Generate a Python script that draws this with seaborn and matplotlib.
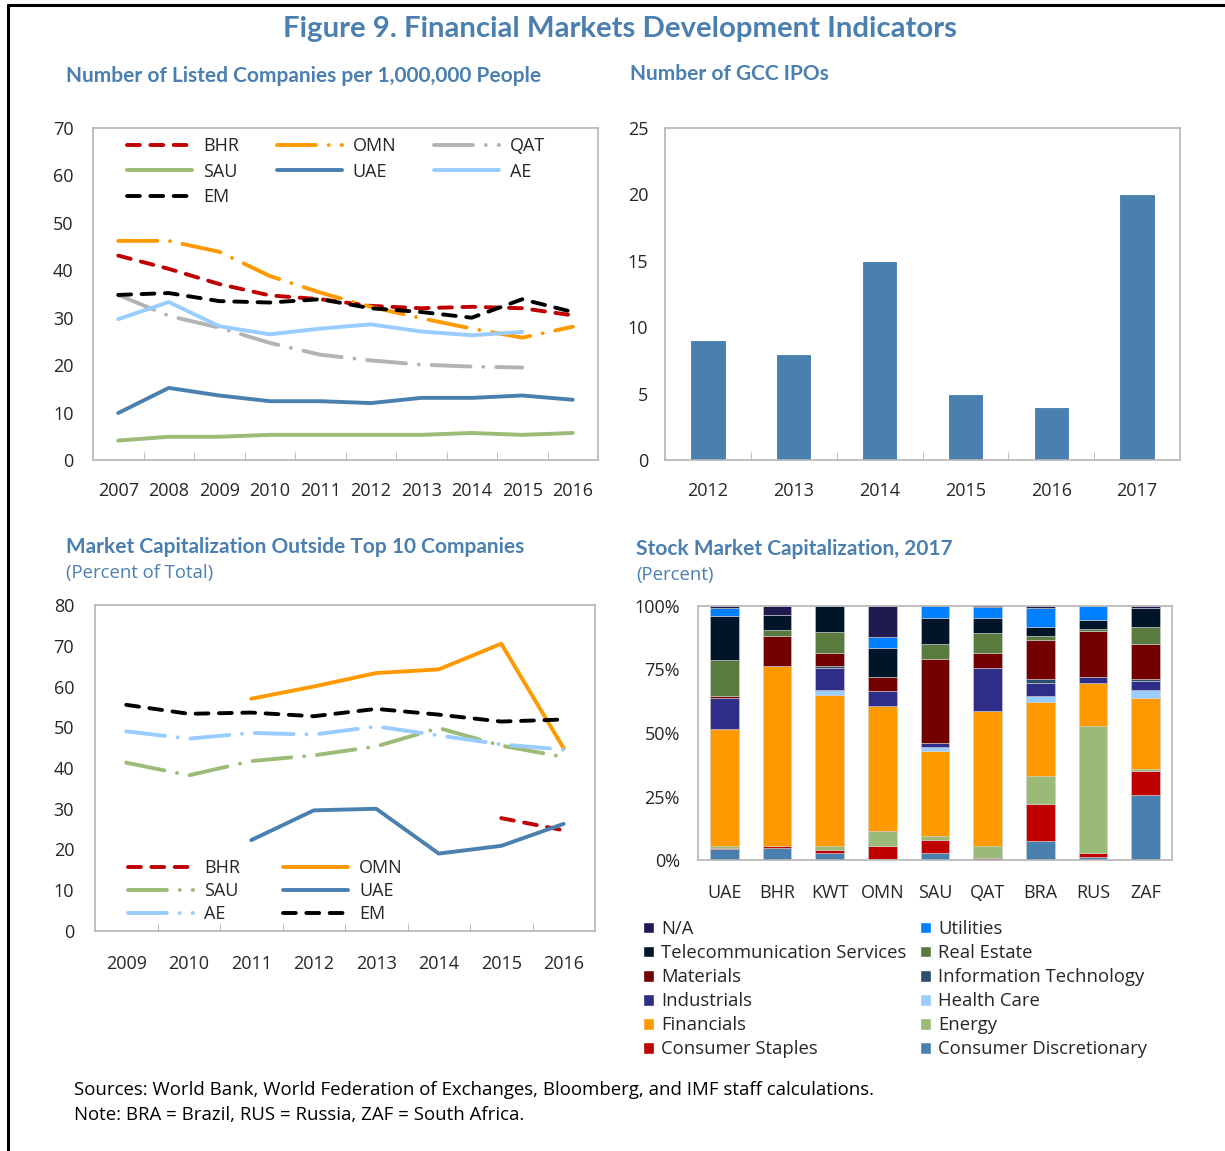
import numpy as np
import pandas as pd
import seaborn as sns
import matplotlib.pyplot as plt
from matplotlib.lines import Line2D
from matplotlib.patches import Patch

# ---- data ----
years_listed = [2007, 2008, 2009, 2010, 2011, 2012, 2013, 2014, 2015, 2016]
bhr_listed = [43.1, 40.3, 37.1, 34.7, 33.9, 32.5, 32.0, 32.3, 32.0, 30.5]
omn_listed = [46.2, 46.2, 43.9, 38.8, 35.3, 32.3, 29.9, 27.7, 25.8, 28.1]
qat_listed = [34.8, 30.4, 27.9, 24.7, 22.2, 21.0, 20.1, 19.7, 19.5, np.nan]
sau_listed = [4.1, 4.9, 4.9, 5.3, 5.3, 5.3, 5.3, 5.7, 5.3, 5.7]
uae_listed = [9.9, 15.2, 13.6, 12.4, 12.4, 12.0, 13.1, 13.1, 13.6, 12.7]
ae_listed = [29.7, 33.3, 28.2, 26.5, 27.7, 28.6, 27.1, 26.3, 27.0, np.nan]
em_listed = [34.8, 35.2, 33.5, 33.2, 33.9, 32.0, 31.2, 30.0, 33.9, 31.2]

ipo_years = ['2012', '2013', '2014', '2015', '2016', '2017']
ipo_counts = [9, 8, 15, 5, 4, 20]

years_cap = [2009, 2010, 2011, 2012, 2013, 2014, 2015, 2016]
bhr_cap = [np.nan, np.nan, np.nan, np.nan, np.nan, np.nan, 27.7, 24.7]
omn_cap = [np.nan, np.nan, 57.0, 60.0, 63.3, 64.2, 70.5, 44.8]
sau_cap = [41.3, 38.2, 41.7, 43.1, 45.3, 49.8, 45.5, 42.7]
uae_cap = [np.nan, np.nan, 22.3, 29.6, 30.0, 19.0, 20.9, 26.3]
ae_cap = [49.0, 47.2, 48.6, 48.2, 50.2, 48.0, 45.8, 44.5]
em_cap = [55.5, 53.3, 53.6, 52.7, 54.5, 53.1, 51.4, 51.9]

countries = ['UAE', 'BHR', 'KWT', 'OMN', 'SAU', 'QAT', 'BRA', 'RUS', 'ZAF']
cons_disc = [4.2, 4.9, 2.8, 0.5, 2.8, 0.0, 7.3, 1.3, 25.5]
cons_staples = [0.7, 0.8, 1.3, 5.1, 5.1, 0.7, 14.6, 1.4, 9.6]
energy = [0.8, 0.0, 1.5, 5.9, 1.6, 5.0, 11.1, 50.0, 0.8]
financials = [45.8, 70.6, 59.5, 49.2, 33.6, 53.0, 29.4, 16.9, 27.7]
health_care = [0.0, 0.0, 1.7, 0.0, 1.4, 0.0, 2.0, 0.0, 3.2]
industrials = [12.3, 0.0, 8.8, 5.9, 1.6, 16.9, 5.3, 2.4, 3.7]
info_tech = [0.0, 0.0, 0.7, 0.0, 0.0, 0.0, 1.6, 0.0, 0.8]
materials = [0.7, 11.7, 5.1, 5.3, 33.0, 5.9, 15.3, 18.2, 13.9]
real_estate = [14.1, 2.4, 8.2, 0.0, 6.1, 8.0, 1.6, 0.8, 6.6]
telecom = [17.5, 5.9, 10.4, 11.5, 10.1, 5.8, 3.6, 3.6, 7.3]
utilities = [3.0, 0.0, 0.0, 4.5, 4.6, 4.3, 7.4, 5.4, 0.0]
not_avail = [0.9, 3.7, 0.0, 12.0, 0.4, 0.6, 0.9, 0.0, 1.0]

# ---- style ----
sns.set_style('white')
plt.rcParams['font.family'] = ['Open Sans', 'DejaVu Sans']

W, H = 1225, 1151
BLUE_T = '#4a7fb0'
SPINE = '#b5b5b5'
RED, ORANGE, GREY, GREEN = '#c00000', '#ff9900', '#b3b3b3', '#9bbb77'
UAE_C, AE_C, EM_C = '#4a80b0', '#99ccff', '#000000'
SHORT = (0, (3.3, 2.7))
DASHDOT = (0, (10, 3.3, 0.01, 3.3))
LW = 2.8

fig = plt.figure(figsize=(W / 100, H / 100), dpi=100)


def px_rect(l, t, r, b):
    return [l / W, 1 - b / H, (r - l) / W, (b - t) / H]


def frame(ax, ypad, xpad):
    for s in ax.spines.values():
        s.set_color(SPINE)
        s.set_linewidth(1.2)
        s.set_visible(True)
    ax.tick_params(axis='y', direction='in', length=5, color=SPINE, pad=ypad, labelsize=13)
    ax.tick_params(axis='x', which='major', length=0, pad=xpad, labelsize=13)
    ax.tick_params(axis='x', which='minor', direction='in', length=6, color=SPINE, bottom=True)
    ax.set_xlabel('')
    ax.set_ylabel('')


def draw_lines(ax, x, series):
    handles = {}
    for name, vals, color, ls in series:
        sns.lineplot(x=x, y=vals, ax=ax, color=color, linewidth=LW, linestyle=ls,
                     dash_capstyle='round', solid_capstyle='round', legend=False)
        handles[name] = Line2D([], [], color=color, linewidth=LW, linestyle=ls,
                               dash_capstyle='round', solid_capstyle='round')
    return handles


# ---- panel 1: listed companies ----
ax1 = fig.add_axes(px_rect(93, 128, 598, 460))
h1 = draw_lines(ax1, years_listed, [
    ('BHR', bhr_listed, RED, SHORT),
    ('OMN', omn_listed, ORANGE, DASHDOT),
    ('QAT', qat_listed, GREY, DASHDOT),
    ('SAU', sau_listed, GREEN, '-'),
    ('UAE', uae_listed, UAE_C, '-'),
    ('AE', ae_listed, AE_C, '-'),
    ('EM', em_listed, EM_C, SHORT),
])
ax1.set_xlim(2006.5, 2016.5)
ax1.set_ylim(0, 70)
ax1.set_yticks(range(0, 71, 10))
ax1.set_xticks(years_listed)
ax1.set_xticks(np.arange(2007.5, 2016, 1), minor=True)
frame(ax1, 14, 16)
order1 = ['BHR', 'SAU', 'EM', 'OMN', 'UAE', 'QAT', 'AE']
ax1.legend([h1[k] for k in order1], order1, ncol=3, frameon=False, fontsize=13,
           loc='upper left', bbox_to_anchor=(127 / W, 1 - 137 / H), bbox_transform=fig.transFigure,
           borderpad=0, borderaxespad=0, handlelength=3.6, handletextpad=0.6,
           columnspacing=2.1, labelspacing=0.42)

# ---- panel 2: IPOs ----
ax2 = fig.add_axes(px_rect(665, 128, 1180, 460))
sns.barplot(x=ipo_years, y=ipo_counts, ax=ax2, color='#4a80b0', width=0.41,
            saturation=1, edgecolor='white', linewidth=0.8)
ax2.set_xlim(-0.5, 5.5)
ax2.set_ylim(0, 25)
ax2.set_yticks(range(0, 26, 5))
ax2.set_xticks(np.arange(0.5, 5, 1), minor=True)
frame(ax2, 12, 16)
ax2.tick_params(axis='y', length=0)

# ---- panel 3: market cap outside top 10 ----
ax3 = fig.add_axes(px_rect(95, 605, 595, 931))
h3 = draw_lines(ax3, years_cap, [
    ('BHR', bhr_cap, RED, SHORT),
    ('OMN', omn_cap, ORANGE, '-'),
    ('SAU', sau_cap, GREEN, DASHDOT),
    ('UAE', uae_cap, UAE_C, '-'),
    ('AE', ae_cap, AE_C, DASHDOT),
    ('EM', em_cap, EM_C, SHORT),
])
ax3.set_xlim(2008.5, 2016.5)
ax3.set_ylim(0, 80)
ax3.set_yticks(range(0, 81, 10))
ax3.set_xticks(years_cap)
ax3.set_xticks(np.arange(2009.5, 2016, 1), minor=True)
frame(ax3, 15, 17)
order3 = ['BHR', 'SAU', 'AE', 'OMN', 'UAE', 'EM']
ax3.legend([h3[k] for k in order3], order3, ncol=2, frameon=False, fontsize=13,
           loc='upper left', bbox_to_anchor=(128 / W, 1 - 859 / H), bbox_transform=fig.transFigure,
           borderpad=0, borderaxespad=0, handlelength=3.6, handletextpad=0.6,
           columnspacing=2.4, labelspacing=0.28)

# ---- panel 4: stacked sectors ----
ax4 = fig.add_axes(px_rect(698, 606, 1172, 860))
sectors = [
    ('Consumer Discretionary', cons_disc, '#4a80b0'),
    ('Consumer Staples', cons_staples, '#c00000'),
    ('Energy', energy, '#99bb77'),
    ('Financials', financials, '#ff9900'),
    ('Health Care', health_care, '#99ccff'),
    ('Industrials', industrials, '#2e2d88'),
    ('Information Technology', info_tech, '#2c4e6e'),
    ('Materials', materials, '#720000'),
    ('Real Estate', real_estate, '#5a7b3e'),
    ('Telecommunication Services', telecom, '#001628'),
    ('Utilities', utilities, '#0080ff'),
    ('N/A', not_avail, '#1f1a50'),
]
bottom = np.zeros(len(countries))
colors4 = {}
for name, vals, color in sectors:
    sns.barplot(x=countries, y=vals, ax=ax4, color=color, width=0.54, saturation=1,
                bottom=bottom, edgecolor='#d0d0d0', linewidth=0.4)
    bottom = bottom + np.array(vals)
    colors4[name] = color
ax4.set_xlim(-0.5, 8.5)
ax4.set_ylim(0, 100)
ax4.set_yticks([0, 25, 50, 75, 100])
ax4.set_yticklabels(['0%', '25%', '50%', '75%', '100%'])
frame(ax4, 13, 17)
ax4.tick_params(axis='y', length=0)
order4 = ['N/A', 'Telecommunication Services', 'Materials', 'Industrials', 'Financials',
          'Consumer Staples', 'Utilities', 'Real Estate', 'Information Technology',
          'Health Care', 'Energy', 'Consumer Discretionary']
ax4.legend([Patch(facecolor=colors4[k]) for k in order4], order4, ncol=2, frameon=False,
           fontsize=13.3, loc='upper left', bbox_to_anchor=(643 / W, 1 - 920 / H),
           bbox_transform=fig.transFigure, borderpad=0, borderaxespad=0,
           handlelength=0.6, handleheight=0.6, handletextpad=0.4,
           columnspacing=0.7, labelspacing=0.33)

# ---- titles and notes ----
fig.text(620 / W, 1 - 29 / H, 'Figure 9. Financial Markets Development Indicators',
         ha='center', va='center', color=BLUE_T, fontsize=21.2, fontweight='bold', family='Lato')
fig.text(66 / W, 1 - 76 / H, 'Number of Listed Companies per 1,000,000 People',
         ha='left', va='center', color=BLUE_T, fontsize=15, fontweight='bold', family='Lato')
fig.text(630 / W, 1 - 74 / H, 'Number of GCC IPOs',
         ha='left', va='center', color=BLUE_T, fontsize=15, fontweight='bold', family='Lato')
fig.text(66 / W, 1 - 547 / H, 'Market Capitalization Outside Top 10 Companies',
         ha='left', va='center', color=BLUE_T, fontsize=15, fontweight='bold', family='Lato')
fig.text(66 / W, 1 - 573 / H, '(Percent of Total)',
         ha='left', va='center', color=BLUE_T, fontsize=13.3)
fig.text(636 / W, 1 - 549 / H, 'Stock Market Capitalization, 2017',
         ha='left', va='center', color=BLUE_T, fontsize=15, fontweight='bold', family='Lato')
fig.text(636 / W, 1 - 575 / H, '(Percent)',
         ha='left', va='center', color=BLUE_T, fontsize=13.3)
fig.text(74 / W, 1 - 1090 / H,
         'Sources: World Bank, World Federation of Exchanges, Bloomberg, and IMF staff calculations.',
         ha='left', va='center', color='black', fontsize=13.4)
fig.text(74 / W, 1 - 1115 / H, 'Note: BRA = Brazil, RUS = Russia, ZAF = South Africa.',
         ha='left', va='center', color='black', fontsize=13.4)

# outer frame (top and left)
fig.add_artist(Line2D([8 / W, 8 / W], [0, 1 - 5 / H], transform=fig.transFigure, color='black', lw=2.2))
fig.add_artist(Line2D([8 / W, 1], [1 - 5 / H, 1 - 5 / H], transform=fig.transFigure, color='black', lw=2.2))

fig.savefig('out.png', dpi=100)
